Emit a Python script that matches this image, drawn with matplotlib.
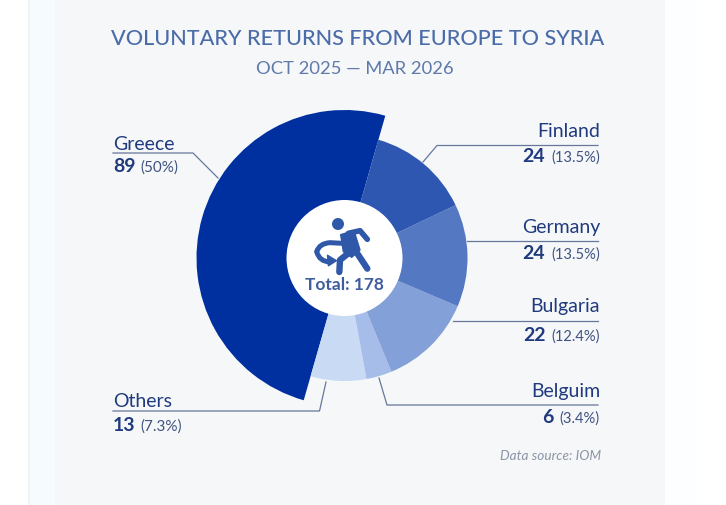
import matplotlib
matplotlib.use("Agg")
import matplotlib.pyplot as plt
from matplotlib.patches import Rectangle, Circle, PathPatch, Polygon
from matplotlib.path import Path

plt.rcParams['font.family'] = ['Lato', 'DejaVu Sans']

# Data (counter-clockwise from the top of the Greece slice)
countries = ['Greece', 'Others', 'Belguim', 'Bulgaria', 'Germany', 'Finland']
values = [89, 13, 6, 22, 24, 24]
percents = ['50%', '7.3%', '3.4%', '12.4%', '13.5%', '13.5%']
colors = ['#00309F', '#C9DAF5', '#A6BDE9', '#84A0D8', '#5578C2', '#2D57B0']
title = 'VOLUNTARY RETURNS FROM EUROPE TO SYRIA'
subtitle = 'OCT 2025 — MAR 2026'

W, H = 726, 505
NAVY = '#1F3A7D'
LINE = '#66779C'
ICON = '#2F58A8'
def Y(y):
    return H - y

fig = plt.figure(figsize=(W / 100, H / 100), dpi=100, facecolor='white')
ax = fig.add_axes([0, 0, 1, 1])

# Background panels
ax.add_patch(Rectangle((30, 0), 25, H, fc='#F6FBFE', ec='none', zorder=0))
ax.add_patch(Rectangle((55, 0), 610, H, fc='#F6F7F9', ec='none', zorder=0))
ax.add_patch(Rectangle((665, 0), 30, H, fc='#FDFEFF', ec='none', zorder=0))
ax.add_patch(Rectangle((28, 0), 2, H, fc='#F1F2F3', ec='none', zorder=0))

# Donut
cx, cy = 344.5, Y(258)
wedges, _ = ax.pie(values, colors=colors, startangle=74, counterclock=True,
                   center=(cx, cy), radius=123, frame=True,
                   wedgeprops=dict(linewidth=0, zorder=2))
wedges[0].set_radius(148)
ax.add_patch(Circle((cx, cy), 58, fc='white', ec='none', zorder=3))

ax.set_xlim(0, W)
ax.set_ylim(0, H)
ax.set_aspect('equal')
ax.axis('off')

# Titles
ax.text(357.5, Y(39), title, ha='center', va='center', fontsize=15.6,
        fontweight='medium', color='#4A6CA8')
ax.text(355, Y(69), subtitle, ha='center', va='center', fontsize=13.2,
        color='#5F79A9')

# Leader lines
leaders = {
    'Greece': [(218, 178), (193, 153), (113, 153)],
    'Others': [(326, 382), (319.5, 411), (113, 411)],
    'Belguim': [(379, 378), (387, 405), (598, 405)],
    'Bulgaria': [(453, 320.5), (598, 320.5)],
    'Germany': [(467, 240.5), (598, 240.5)],
    'Finland': [(423, 162), (437, 145.5), (598, 145.5)],
}
for pts in leaders.values():
    ax.plot([p[0] for p in pts], [Y(p[1]) for p in pts], color=LINE, lw=0.9,
            zorder=1, solid_joinstyle='miter')

# Labels: name baseline, value baseline, side
label_pos = {
    'Greece': (150, 172, 'left'),
    'Others': (407, 431, 'left'),
    'Belguim': (397, 423, 'right'),
    'Bulgaria': (312, 341, 'right'),
    'Germany': (233, 259, 'right'),
    'Finland': (137, 162, 'right'),
}
renderer = fig.canvas.get_renderer()
for name, val, pct in zip(countries, values, percents):
    yn, yv, side = label_pos[name]
    if side == 'left':
        ax.text(113, Y(yn), name, ha='left', va='baseline', fontsize=14, color=NAVY)
        t = ax.text(113, Y(yv), str(val), ha='left', va='baseline', fontsize=14,
                    fontweight='bold', color=NAVY)
        bb = t.get_window_extent(renderer)
        ax.text(bb.x1 + 5, Y(yv), f'({pct})', ha='left', va='baseline',
                fontsize=11, color='#3F5382')
    else:
        ax.text(600, Y(yn), name, ha='right', va='baseline', fontsize=14, color=NAVY)
        t = ax.text(600, Y(yv), f'({pct})', ha='right', va='baseline',
                    fontsize=10.6, color='#3F5382')
        bb = t.get_window_extent(renderer)
        ax.text(bb.x0 - 6, Y(yv), str(val), ha='right', va='baseline', fontsize=14,
                fontweight='bold', color=NAVY)

ax.text(601, Y(455.5), 'Data source: IOM', ha='right', va='center', fontsize=9.8,
        style='italic', color='#8A94A6')

# Centre
ax.text(344.5, Y(285), 'Total: 178', ha='center', va='center', fontsize=12.5,
        fontweight='bold', color='#3F5E9E', zorder=5)

# Icon (person walking back), sketched in a 3x local grid
def ix(x):
    return 280 + x / 3
def iy(y):
    return Y(200 + y / 3)
def stroke(pts, lw):
    ax.plot([ix(p[0]) for p in pts], [iy(p[1]) for p in pts], color=ICON, lw=lw,
            solid_capstyle='round', solid_joinstyle='round', zorder=5)

ax.add_patch(Circle((ix(174), iy(72)), 6, fc=ICON, ec='none', zorder=5))
ax.add_patch(Polygon([(ix(p[0]), iy(p[1])) for p in
                      [(182, 104), (222, 92), (240, 150), (215, 172), (190, 155)]],
                     closed=True, fc=ICON, ec=ICON, lw=1, joinstyle='round', zorder=5))
stroke([(205, 100), (240, 92), (262, 118)], 4)            # arm
stroke([(225, 150), (262, 206)], 4.6)                     # front leg
stroke([(205, 160), (180, 180), (178, 216)], 4.6)         # back leg
loop = Path([(ix(188), iy(130)), (ix(150), iy(128)), (ix(118), iy(130)),
             (ix(110), iy(155)), (ix(118), iy(185)), (ix(150), iy(186))],
            [Path.MOVETO, Path.LINETO, Path.CURVE3, Path.CURVE3, Path.CURVE3, Path.CURVE3])
ax.add_patch(PathPatch(loop, fc='none', ec=ICON, lw=3.6, capstyle='round', zorder=5))
ax.add_patch(Polygon([(ix(p[0]), iy(p[1])) for p in
                      [(142, 165), (170, 182), (145, 198)]],
                     closed=True, fc=ICON, ec=ICON, lw=0.8, zorder=5))

fig.savefig('out.png', dpi=100, facecolor='white')
